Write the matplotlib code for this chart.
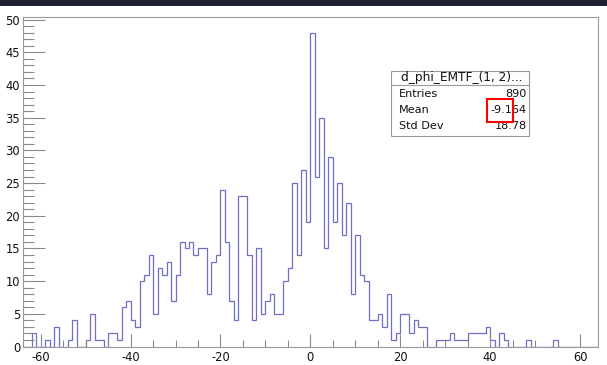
import numpy as np
import matplotlib
matplotlib.use("Agg")
import matplotlib.pyplot as plt
from matplotlib.patches import Rectangle
from matplotlib.lines import Line2D
from matplotlib.ticker import MultipleLocator

plt.rcParams['font.family'] = ['DejaVu Sans']
plt.rcParams['axes.unicode_minus'] = False

# histogram binning: 128 unit-width bins on [-64, 64)
x_low, x_high, n_bins = -64, 64, 128

# bin contents, left to right
counts = [
    0, 0, 2, 0, 0, 1, 0, 3,
    0, 0, 1, 4, 0, 0, 1, 5,
    1, 1, 0, 2, 2, 1, 6, 7,
    4, 3, 10, 11, 14, 5, 12, 11,
    13, 7, 11, 16, 15, 16, 14, 15,
    15, 8, 13, 14, 24, 16, 7, 4,
    23, 23, 14, 4, 15, 5, 7, 8,
    5, 5, 10, 12, 25, 14, 27, 19,
    48, 26, 35, 15, 29, 19, 25, 17,
    22, 8, 17, 11, 10, 4, 4, 5,
    3, 8, 1, 2, 5, 5, 2, 4,
    3, 3, 0, 0, 1, 1, 1, 2,
    1, 1, 1, 2, 2, 2, 2, 3,
    1, 0, 2, 1, 0, 0, 0, 0,
    1, 0, 0, 0, 0, 0, 1, 0,
    0, 0, 0, 0, 0, 0, 0, 0,
]

hist_name = "d_phi_EMTF_(1, 2)..."
stat_labels = ["Entries", "Mean", "Std Dev"]
stat_values = ["890", "-9.164", "18.78"]

W, H = 607, 365
fig = plt.figure(figsize=(W / 100, H / 100), dpi=100)
fig.patch.set_facecolor("white")


def fx(x):
    return x / W


def fy(y):
    return 1 - y / H


# dark window strip along the top edge
fig.patches.append(Rectangle((0, fy(6)), 1, 6 / H, transform=fig.transFigure,
                             facecolor="#1e2230", edgecolor="none", zorder=0))

ax = fig.add_axes([fx(22.7), fy(346.5), fx(598) - fx(22.7), fy(17) - fy(346.5)])
edges = np.linspace(x_low, x_high, n_bins + 1)
ax.stairs(counts, edges, color="#6f6fc4", linewidth=0.9, baseline=0)

ax.set_xlim(x_low, x_high)
ax.set_ylim(0, 1.05 * max(counts))

ax.xaxis.set_major_locator(MultipleLocator(20))
ax.xaxis.set_minor_locator(MultipleLocator(5))
ax.yaxis.set_major_locator(MultipleLocator(5))
ax.yaxis.set_minor_locator(MultipleLocator(1))

tick_col = "#8a8a8a"
ax.tick_params(axis="x", which="major", direction="in", length=9.4, width=0.8,
               color=tick_col, pad=3.2, labelsize=8.3, labelcolor="#111")
ax.tick_params(axis="x", which="minor", direction="in", length=5, width=0.8,
               color=tick_col)
ax.tick_params(axis="y", which="major", direction="in", length=15.6, width=0.8,
               color=tick_col, pad=1.8, labelsize=8.3, labelcolor="#111")
ax.tick_params(axis="y", which="minor", direction="in", length=7.7, width=0.8,
               color=tick_col)
ax.tick_params(top=False, right=False, which="both")

for s in ax.spines.values():
    s.set_color("#9a9a9a")
    s.set_linewidth(0.8)

# statistics box
bx0, by0, bx1, by1 = 391, 71, 529, 136
fig.patches.append(Rectangle((fx(bx0), fy(by1)), fx(bx1) - fx(bx0), fy(by0) - fy(by1),
                             transform=fig.transFigure, facecolor="white",
                             edgecolor="#999999", linewidth=0.8, zorder=5))
fig.lines.append(Line2D([fx(bx0), fx(bx1)], [fy(85), fy(85)], transform=fig.transFigure,
                        color="#999999", linewidth=0.8, zorder=6))
fig.text(fx(462), fy(78), hist_name, ha="center", va="center", fontsize=8.7,
         color="#111", zorder=7)
row_y = [93.7, 109.5, 125.7]
for lab, val, yy in zip(stat_labels, stat_values, row_y):
    fig.text(fx(399), fy(yy), lab, ha="left", va="center", fontsize=8.1,
             color="#111", zorder=7)
    fig.text(fx(526.5), fy(yy), val, ha="right", va="center", fontsize=8.1,
             color="#111", zorder=7)

# red highlight around the mean value
fig.patches.append(Rectangle((fx(487), fy(122)), fx(513) - fx(487), fy(99) - fy(122),
                             transform=fig.transFigure, facecolor="none",
                             edgecolor="#ff0000", linewidth=1.5, zorder=8))

fig.savefig("out.png", dpi=100)
